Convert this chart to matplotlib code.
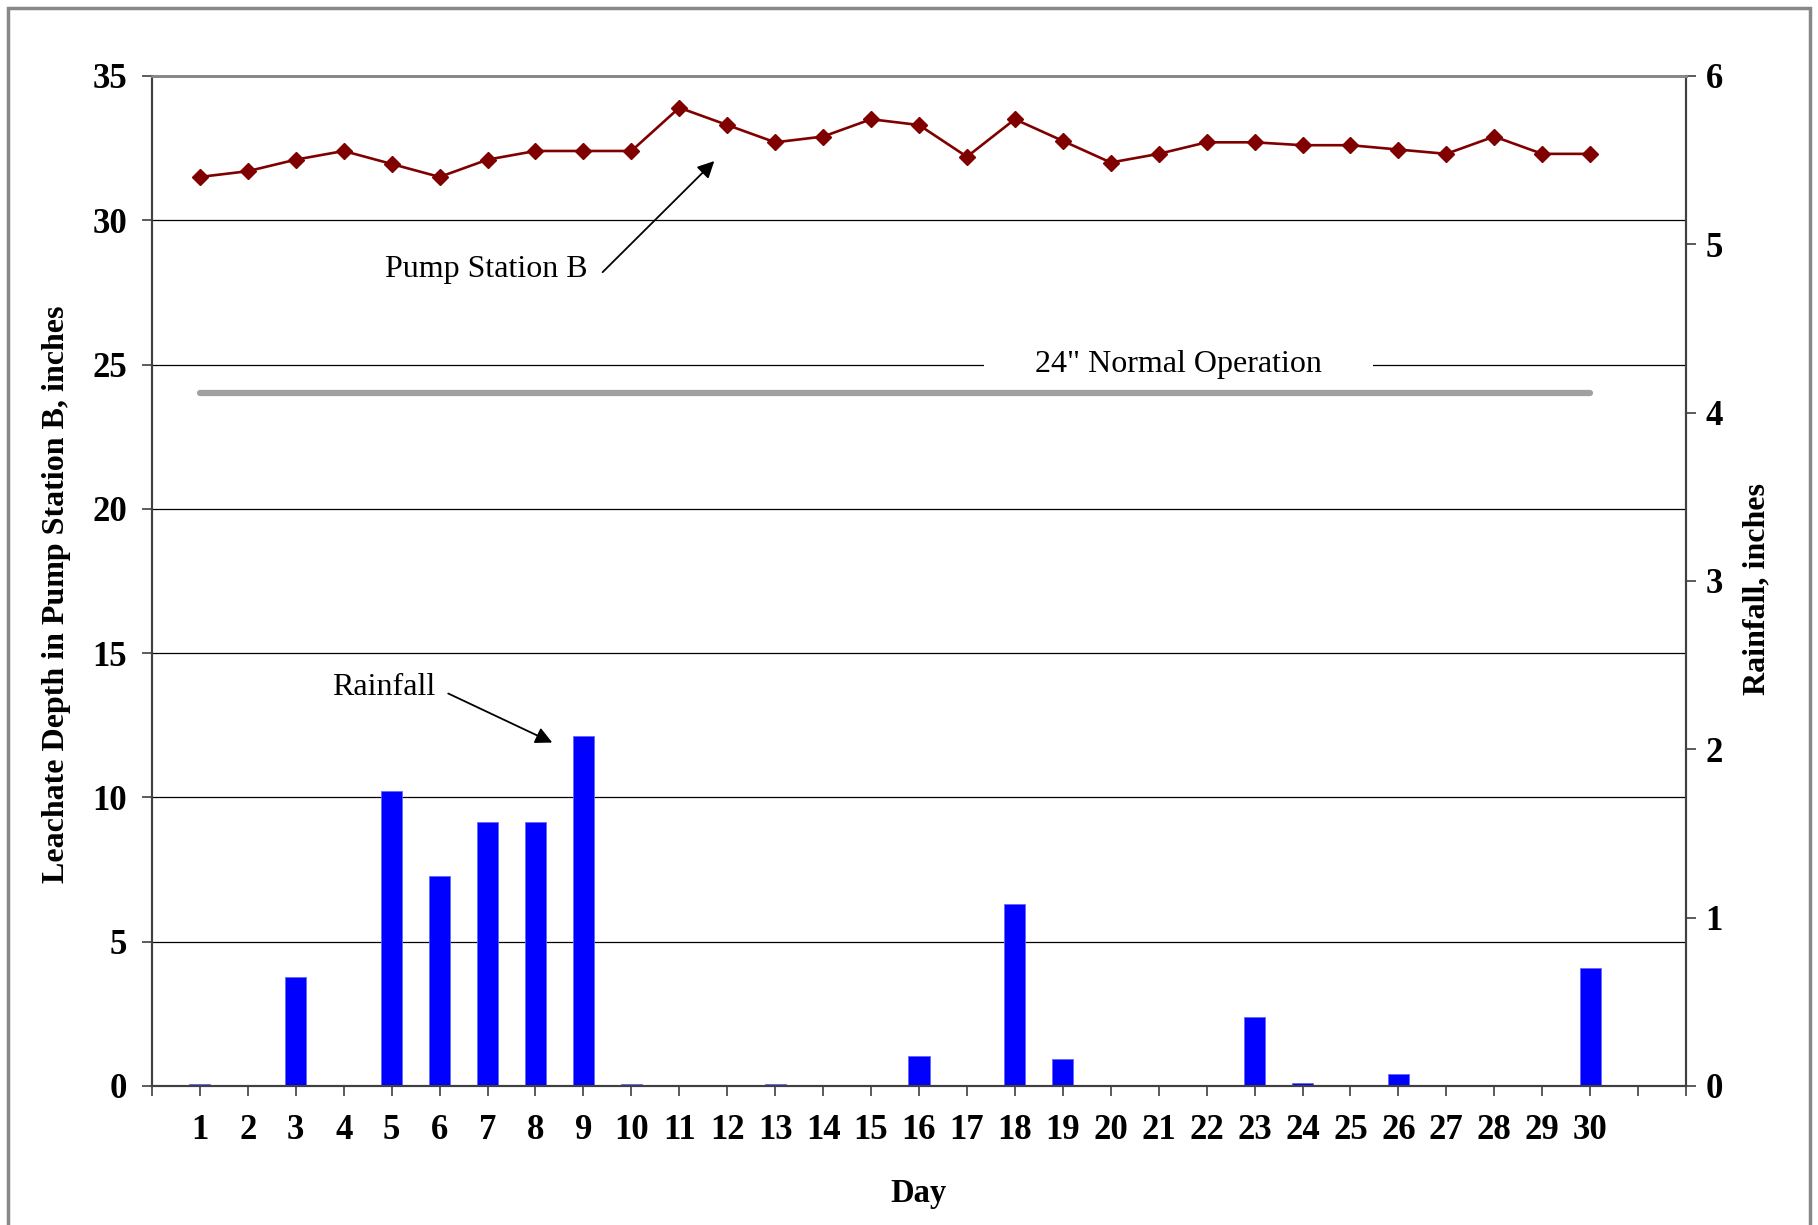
import numpy as np
import matplotlib
matplotlib.use("Agg")
import matplotlib.pyplot as plt
from matplotlib.patches import Rectangle

# data
days = np.arange(1, 31)
pump_b_depth = [31.5, 31.7, 32.1, 32.4, 31.95, 31.5, 32.1, 32.4, 32.4, 32.4,
                33.9, 33.3, 32.7, 32.9, 33.5, 33.3, 32.2, 33.5, 32.75, 32.0,
                32.3, 32.7, 32.7, 32.6, 32.6, 32.45, 32.3, 32.9, 32.3, 32.3]
rainfall = [0.01, 0, 0.65, 0, 1.75, 1.25, 1.57, 1.57, 2.08, 0.01,
            0, 0, 0.01, 0, 0, 0.18, 0, 1.08, 0.16, 0,
            0, 0, 0.41, 0.02, 0, 0.07, 0, 0, 0, 0.70]
normal_level = 24
left_ticks = [0, 5, 10, 15, 20, 25, 30, 35]
right_ticks = [0, 1, 2, 3, 4, 5, 6]

plt.rcParams['font.family'] = ['Liberation Serif', 'DejaVu Serif']

fig = plt.figure(figsize=(18.18, 12.25), dpi=100)
ax = fig.add_axes([0.0836, 0.1135, 0.8438, 0.8245])
ax2 = ax.twinx()

# rainfall bars on the right axis
ax2.bar(days, rainfall, width=0.44, color='#0000FF', edgecolor='#6666FF',
        linewidth=0.6, zorder=2)
ax2.set_ylim(0, 6)
ax2.set_yticks(right_ticks)

# leachate depth line
ax.plot(days, pump_b_depth, color='#800000', lw=1.9, marker='D',
        markersize=8.5, zorder=4)
ax.plot([days[0], days[-1]], [normal_level, normal_level], color='#A0A0A0',
        lw=4.5, solid_capstyle='round', zorder=3)

ax.set_xlim(0, 32)
ax.set_ylim(0, 35)
ax.set_yticks(left_ticks)
ax.set_xticks(range(0, 33))
ax.set_xticklabels([str(d) if 1 <= d <= 30 else '' for d in range(0, 33)])
ax.set_axisbelow(True)
ax.yaxis.grid(True, color='black', lw=0.9)

for a in (ax, ax2):
    a.tick_params(axis='both', direction='out', length=7, width=1.2,
                  color='#404040', labelsize=25, pad=11)
    for lab in a.get_xticklabels() + a.get_yticklabels():
        lab.set_fontweight('bold')
    for s in ('left', 'right', 'bottom'):
        a.spines[s].set_color('#404040')
        a.spines[s].set_linewidth(1.5)
    a.spines['top'].set_color('#888888')
    a.spines['top'].set_linewidth(2)
ax.tick_params(axis='x', pad=13)
ax2.tick_params(axis='y', pad=7)

ax.set_ylabel('Leachate Depth in Pump Station B, inches', fontsize=23,
              fontweight='bold')
ax.yaxis.set_label_coords(-0.0528, 0.487)
ax2.set_ylabel('Rainfall, inches', fontsize=23, fontweight='bold')
ax2.yaxis.set_label_coords(1.037, 0.492)
ax.set_xlabel('Day', fontsize=23.5, fontweight='bold')
ax.xaxis.set_label_coords(0.5, -0.0907)

# labels and arrows
ax.text(21.42, 25, '24" Normal Operation', fontsize=23, ha='center',
        va='center', zorder=2.5,
        bbox=dict(boxstyle='square,pad=1.6', fc='white', ec='none'))
ax.text(9.08, 28.3, 'Pump Station B', fontsize=23, ha='right', va='center',
        zorder=5)
ax.annotate('', xy=(11.73, 32.05), xytext=(9.4, 28.2), zorder=5,
            arrowprops=dict(arrowstyle='-|>', color='black', lw=1.3,
                            mutation_scale=25, shrinkA=0, shrinkB=0))
ax.text(5.92, 13.8, 'Rainfall', fontsize=23, ha='right', va='center',
        zorder=5)
ax.annotate('', xy=(8.35, 11.9), xytext=(6.18, 13.6), zorder=5,
            arrowprops=dict(arrowstyle='-|>', color='black', lw=1.3,
                            mutation_scale=25, shrinkA=0, shrinkB=0))

# outer frame around the chart area
fig.patches.append(Rectangle((0.0044, -0.02), 0.9912, 1.0135, fill=False,
                             ec='#888888', lw=2.5, transform=fig.transFigure,
                             figure=fig))

fig.savefig('out.png', dpi=100)
